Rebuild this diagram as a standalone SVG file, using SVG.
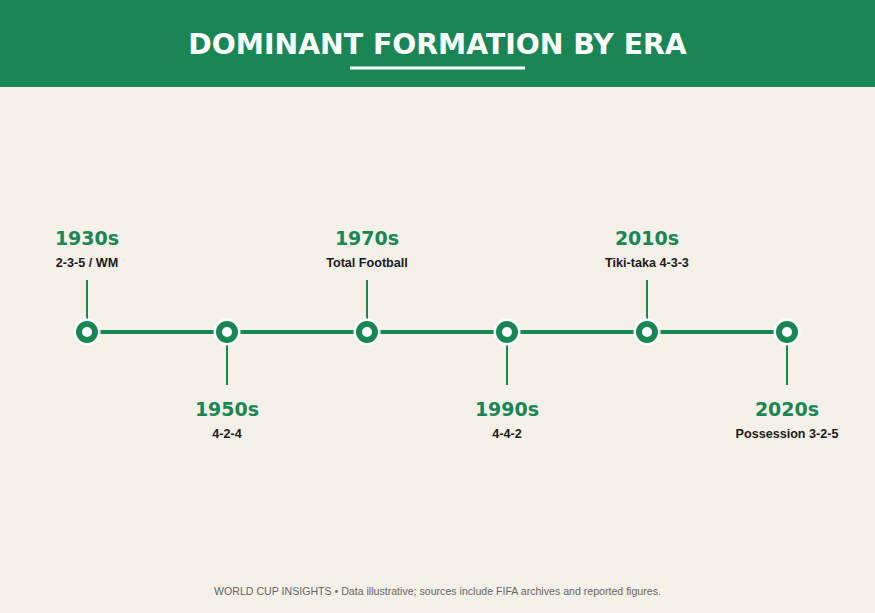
<svg xmlns="http://www.w3.org/2000/svg" width="875" height="613" viewBox="0 0 875 613">
<style>
.year{font-family:"DejaVu Sans",sans-serif;font-weight:bold;font-size:19px;fill:#1b8655;text-anchor:middle}
.sub{font-family:"Liberation Sans",Arial,sans-serif;font-weight:bold;font-size:12.6px;fill:#1a1a1a;text-anchor:middle}
.stem{stroke:#1b8655;stroke-width:2}
.dot{fill:#ffffff;stroke:#1b8655;stroke-width:6}
.halo{fill:#ffffff}
</style>
<rect width="875" height="613" fill="#f5f0e8"/>
<rect width="875" height="87" fill="#1b8655"/>
<text x="437.5" y="54" font-family="'DejaVu Sans',sans-serif" font-weight="bold" font-size="28.3" fill="#ffffff" text-anchor="middle">DOMINANT FORMATION BY ERA</text>
<line x1="350" y1="68" x2="525" y2="68" stroke="#ffffff" stroke-width="3"/>
<g id="connectors">
<line x1="87" y1="332" x2="787" y2="332" stroke="#1b8655" stroke-width="4"/>
<line class="stem" x1="87" y1="280" x2="87" y2="320"/>
<line class="stem" x1="227" y1="344" x2="227" y2="385"/>
<line class="stem" x1="367" y1="280" x2="367" y2="320"/>
<line class="stem" x1="507" y1="344" x2="507" y2="385"/>
<line class="stem" x1="647" y1="280" x2="647" y2="320"/>
<line class="stem" x1="787" y1="344" x2="787" y2="385"/>
</g>
<g id="n1930"><circle class="halo" cx="87" cy="332" r="13.5"/><circle class="dot" cx="87" cy="332" r="8"/><text class="year" x="87" y="245">1930s</text><text class="sub" x="87" y="267">2-3-5 / WM</text></g>
<g id="n1950"><circle class="halo" cx="227" cy="332" r="13.5"/><circle class="dot" cx="227" cy="332" r="8"/><text class="year" x="227" y="416">1950s</text><text class="sub" x="227" y="438">4-2-4</text></g>
<g id="n1970"><circle class="halo" cx="367" cy="332" r="13.5"/><circle class="dot" cx="367" cy="332" r="8"/><text class="year" x="367" y="245">1970s</text><text class="sub" x="367" y="267">Total Football</text></g>
<g id="n1990"><circle class="halo" cx="507" cy="332" r="13.5"/><circle class="dot" cx="507" cy="332" r="8"/><text class="year" x="507" y="416">1990s</text><text class="sub" x="507" y="438">4-4-2</text></g>
<g id="n2010"><circle class="halo" cx="647" cy="332" r="13.5"/><circle class="dot" cx="647" cy="332" r="8"/><text class="year" x="647" y="245">2010s</text><text class="sub" x="647" y="267">Tiki-taka 4-3-3</text></g>
<g id="n2020"><circle class="halo" cx="787" cy="332" r="13.5"/><circle class="dot" cx="787" cy="332" r="8"/><text class="year" x="787" y="416">2020s</text><text class="sub" x="787" y="438">Possession 3-2-5</text></g>
<text x="437.5" y="595" font-family="'Liberation Sans',Arial,sans-serif" font-size="10.6" fill="#666666" text-anchor="middle">WORLD CUP INSIGHTS • Data illustrative; sources include FIFA archives and reported figures.</text>
</svg>
